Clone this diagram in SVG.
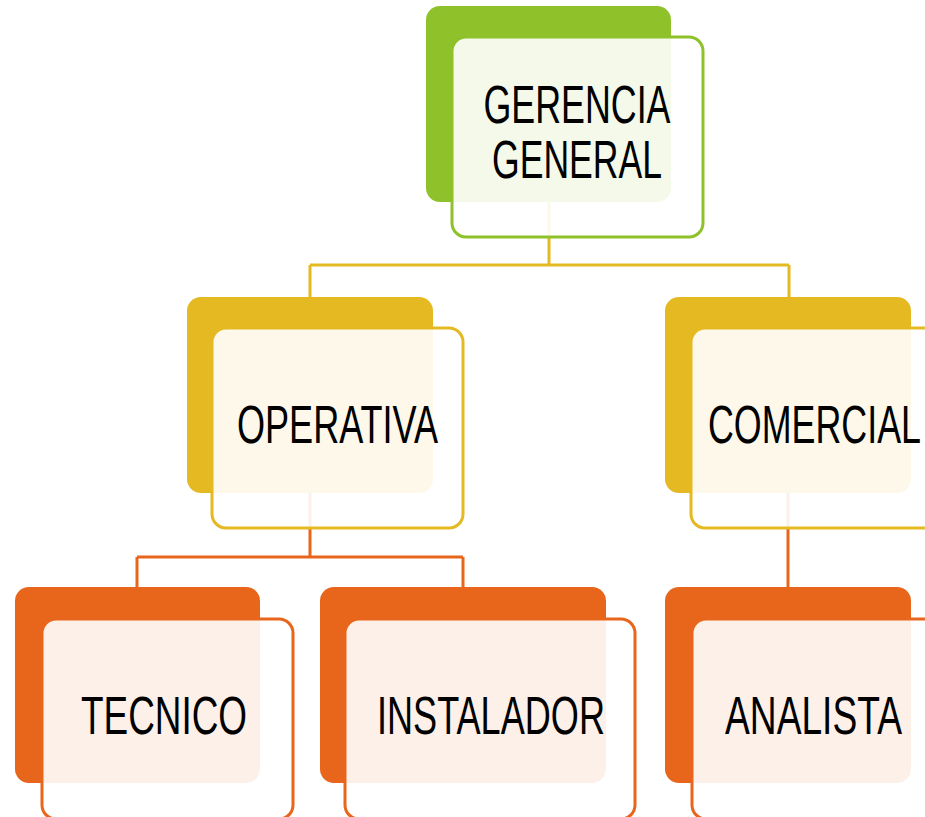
<svg xmlns="http://www.w3.org/2000/svg" width="925" height="817" viewBox="0 0 925 817">
<style>
.t{font-family:"Liberation Sans",Arial,sans-serif;font-size:53px;fill:#000;text-anchor:middle}
.front{fill:#fff;fill-opacity:0.9;stroke-width:3}
.g{fill:#8fc12a}.gs{stroke:#8fc12a}
.y{fill:#e4b922}.ys{stroke:#e4b922}
.o{fill:#e8661c}.os{stroke:#e8661c}
.c1{fill:none;stroke:#e4b922;stroke-width:3}
.c2{fill:none;stroke:#e8661c;stroke-width:3}
</style>
<rect width="925" height="817" fill="#fff"/>
<g id="connectors">
<path class="c1" d="M549 200 V265 M310 265 H789 M310 265 V298 M789 265 V298"/>
<path class="c2" d="M310 490 V557 M137 557 H463 M137 557 V588 M463 557 V588"/>
<path class="c2" d="M788 490 V588"/>
</g>
<g id="gerencia">
<rect class="g" x="426" y="6" width="245" height="196" rx="14"/>
<rect class="front gs" x="452" y="37" width="251" height="200" rx="14"/>
<text class="t" x="577" y="123" textLength="187" lengthAdjust="spacingAndGlyphs">GERENCIA</text>
<text class="t" x="577" y="178" textLength="170" lengthAdjust="spacingAndGlyphs">GENERAL</text>
</g>
<g id="operativa">
<rect class="y" x="187" y="297" width="246" height="196" rx="14"/>
<rect class="front ys" x="212" y="328" width="251" height="200" rx="14"/>
<text class="t" x="337.5" y="443" textLength="201" lengthAdjust="spacingAndGlyphs">OPERATIVA</text>
</g>
<g id="comercial">
<rect class="y" x="665" y="297" width="246" height="196" rx="14"/>
<rect class="front ys" x="691" y="328" width="251" height="200" rx="14"/>
<text class="t" x="814.5" y="443" textLength="213" lengthAdjust="spacingAndGlyphs">COMERCIAL</text>
</g>
<g id="tecnico">
<rect class="o" x="15" y="587" width="245" height="196" rx="14"/>
<rect class="front os" x="42" y="619" width="251" height="200" rx="14"/>
<text class="t" x="164" y="734" textLength="166" lengthAdjust="spacingAndGlyphs">TECNICO</text>
</g>
<g id="instalador">
<rect class="o" x="320" y="587" width="286" height="196" rx="14"/>
<rect class="front os" x="345" y="619" width="290" height="200" rx="14"/>
<text class="t" x="491" y="734" textLength="228" lengthAdjust="spacingAndGlyphs">INSTALADOR</text>
</g>
<g id="analista">
<rect class="o" x="665" y="587" width="246" height="196" rx="14"/>
<rect class="front os" x="692" y="619" width="251" height="200" rx="14"/>
<text class="t" x="813.5" y="734" textLength="177" lengthAdjust="spacingAndGlyphs">ANALISTA</text>
</g>
</svg>
